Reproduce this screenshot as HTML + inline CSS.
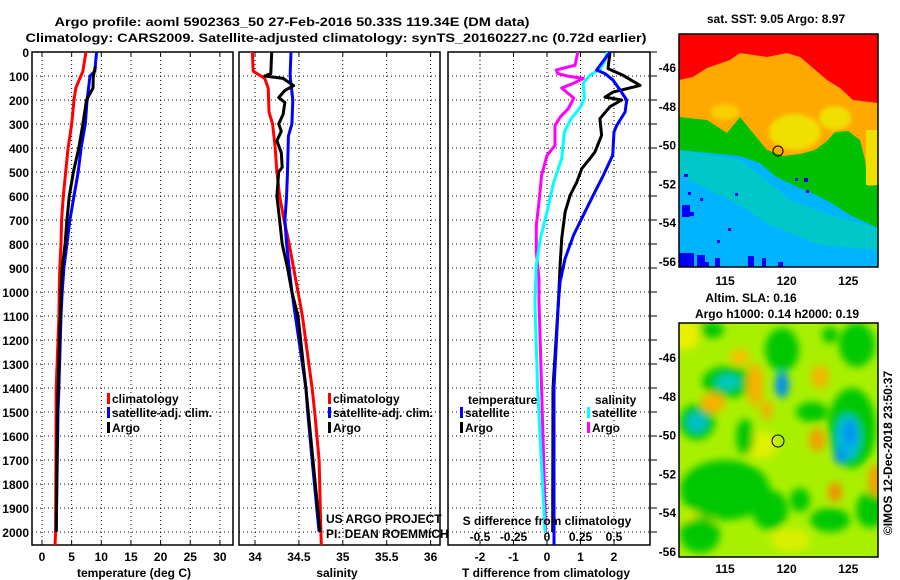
<!DOCTYPE html>
<html><head><meta charset="utf-8"><style>
html,body{margin:0;padding:0;background:#fff;}
svg{display:block;font-family:"Liberation Sans",sans-serif;}
.b{font-weight:bold;font-size:12px;}
</style></head><body>
<svg id="c" width="900" height="580" viewBox="0 0 900 580" xmlns="http://www.w3.org/2000/svg">
<defs>
<filter id="blur" x="-20%" y="-20%" width="140%" height="140%"><feGaussianBlur stdDeviation="4"/></filter>
<filter id="blur2" x="-20%" y="-20%" width="140%" height="140%"><feGaussianBlur stdDeviation="2"/></filter>
<clipPath id="clipT"><rect x="679" y="34" width="199" height="233"/></clipPath>
<clipPath id="clipB"><rect x="679" y="323" width="199" height="234"/></clipPath>
</defs>
<text class="b" x="292" y="26" text-anchor="middle" font-size="14" textLength="475" lengthAdjust="spacingAndGlyphs">Argo profile: aoml 5902363_50 27-Feb-2016 50.33S 119.34E (DM data)</text>
<text class="b" x="336" y="42" text-anchor="middle" font-size="14" textLength="621" lengthAdjust="spacingAndGlyphs">Climatology: CARS2009. Satellite-adjusted climatology: synTS_20160227.nc (0.72d earlier)</text>
<g id="plots"></g>
<g id="maps"></g>
</svg>
<script>
// ---- profile data (depth in m) ----
const tClimDepth = [0,80,150,200,300,400,500,600,700,800,900,1000,1100,1400,2000,2054];
const tClimVal   = [7.4,6.9,5.7,5.4,5.0,4.4,4.0,3.6,3.3,3.2,3.0,2.9,2.85,2.4,2.3,2.2];
const tSatDepth  = [0,80,100,200,300,400,500,600,700,800,900,1000,1100,1400,1500,2000];
const tSatVal    = [9.2,8.9,8.1,7.6,7.3,6.6,6.1,5.4,4.7,4.2,3.7,3.4,3.2,2.85,2.7,2.4];
const tArgoDepth = [60,100,150,200,300,400,500,600,700,800,900,1000,1500,2000];
const tArgoVal   = [9.0,8.65,8.6,7.5,6.9,6.2,5.3,4.6,4.2,3.9,3.4,3.2,2.6,2.4];

const sClimDepth = [0,80,110,150,250,300,400,500,600,700,800,900,1000,1100,1400,1500,1700,2000,2054];
const sClimVal   = [33.97,33.98,34.11,34.15,34.16,34.2,34.23,34.25,34.28,34.33,34.39,34.44,34.49,34.54,34.65,34.68,34.73,34.75,34.755];
const sSatDepth  = [0,100,200,300,350,500,600,700,800,900,1000,1100,1400,1500,1700,2000];
const sSatVal    = [34.41,34.4,34.43,34.42,34.38,34.37,34.36,34.34,34.36,34.39,34.42,34.46,34.58,34.6,34.65,34.73];
const sArgoDepth = [0,90,100,110,140,160,190,210,260,300,330,370,420,480,500,600,700,800,900,1000,1100,1400,2000];
const sArgoVal   = [34.19,34.18,34.11,34.32,34.44,34.34,34.27,34.34,34.32,34.27,34.3,34.25,34.3,34.31,34.27,34.25,34.28,34.31,34.37,34.42,34.49,34.58,34.74];

const dTSatDepth = [0,75,90,117,158,200,250,306,333,430,514,597,681,764,861,958,1042,1400,2054];
const dTSatVal   = [1.88,1.48,1.73,1.97,2.18,2.38,2.33,2.08,2.0,1.96,1.68,1.38,1.08,0.79,0.54,0.39,0.34,0.21,0.21];
const dTArgoDepth= [0,69,97,139,167,188,200,228,278,347,417,444,486,542,597,667,778,889,1042,1400,2000];
const dTArgoVal  = [1.88,1.82,2.27,2.78,1.97,1.73,2.23,1.88,1.58,1.63,1.43,1.28,1.04,0.89,0.69,0.54,0.44,0.39,0.34,0.18,0.17];
const dSArgoDepth= [0,55,75,90,100,110,130,150,192,236,270,306,389,431,514,625,722,833,944,1042,1400,2000];
const dSArgoVal  = [0.23,0.21,0.07,0.08,0.15,0.27,0.2,0.11,0.2,0.16,0.1,0.06,0.06,0.0,-0.04,-0.06,-0.08,-0.08,-0.06,-0.06,-0.04,-0.01];
const dSSatDepth = [0,40,69,97,130,192,230,278,333,444,542,667,778,889,1042,1400,2000];
const dSSatVal   = [0.45,0.43,0.4,0.32,0.27,0.28,0.25,0.18,0.13,0.11,0.05,0.0,-0.05,-0.08,-0.09,-0.07,-0.015];

const depthTicks = [0,100,200,300,400,500,600,700,800,900,1000,1100,1200,1300,1400,1500,1600,1700,1800,1900,2000];
const tTicks = [0,5,10,15,20,25,30];
const sTicks = [34,34.5,35,35.5,36];
const sTickLabels = ["34","34.5","35","35.5","36"];
const dTTicks = [-2,-1,0,1,2];
const dSTicks = [-0.5,-0.25,0,0.25,0.5];
const dSTickLabels = ["-0.5","-0.25","0","0.25","0.5"];
const latTicks = [-46,-48,-50,-52,-54,-56];
const lonTicks = [115,120,125];

const NS = "http://www.w3.org/2000/svg";
function el(tag, attrs, parent, txt){
  const e = document.createElementNS(NS, tag);
  for (const k in attrs) e.setAttribute(k, attrs[k]);
  if (txt !== undefined) e.textContent = txt;
  parent.appendChild(e); return e;
}
const P = document.getElementById('plots');
const TOP = 52, BOT = 545;
const yD = d => TOP + d*0.24;
const xT = t => 42 + t*5.93;
const xS = s => 255 + (s-34)*87.8;
const xDT = t => 547 + t*33.5;
const xDS = s => 547 + s*134;

function panel(name, x0, x1, xTicksPx){
  const g = el('g', {}, P);
  
  
  depthTicks.forEach(d => { if (d>0) el('line',{x1:x0,x2:x1,y1:yD(d),y2:yD(d),stroke:'#000','stroke-width':1,'stroke-dasharray':'1,3'},g); });
  xTicksPx.forEach(x => el('line',{x1:x,x2:x,y1:TOP,y2:BOT,stroke:'#000','stroke-width':1,'stroke-dasharray':'1,3'},g));
  xTicksPx.forEach(x => { el('line',{x1:x,x2:x,y1:TOP,y2:TOP+4,stroke:'#000'},g); el('line',{x1:x,x2:x,y1:BOT,y2:BOT-4,stroke:'#000'},g); });
  el('rect',{x:x0,y:TOP,width:x1-x0,height:BOT-TOP,fill:'none',stroke:'#000','stroke-width':1.5},g);
  return g;
}
function line(g, name, xs, ds, fx, color, w){
  const pts = xs.map((v,i)=> fx(v).toFixed(1)+','+yD(ds[i]).toFixed(1)).join(' ');
  const p = el('polyline',{points:pts,fill:'none',stroke:color,'stroke-width':w||3,'stroke-linejoin':'round'},g);
  
  
}
function label(g,name,x,y,txt,anchor,cls,extra){
  const a = Object.assign({x:x,y:y,'text-anchor':anchor||'start','class':cls||'b'}, extra||{});
  const t = el('text',a,g,txt);
  
  
  return t;
}
function legendItem(g,name,x,y,color,txt){
  el('rect',{x:x,y:y-10,width:3,height:11,fill:color},g);
  label(g,name,x+5,y,txt);
}

const ya = el('g',{},P);


depthTicks.forEach(d => label(ya,'depth-tick-label',29,yD(d)+5,String(d),'end'));

const g1 = panel('temperature-panel',32,233,tTicks.map(xT));
line(g1,'temperature-climatology-line',tClimVal,tClimDepth,xT,'#ff0000');
line(g1,'temperature-satellite-line',tSatVal,tSatDepth,xT,'#0000ff');
line(g1,'temperature-argo-line',tArgoVal,tArgoDepth,xT,'#000000');
tTicks.forEach(t => label(g1,'temperature-tick-label',xT(t),561,String(t),'middle'));
label(g1,'temperature-axis-title',134,577,'temperature (deg C)','middle');
legendItem(g1,'legend-climatology',107,403,'#ff0000','climatology');
legendItem(g1,'legend-satellite-adj',107,417,'#0000ff','satellite-adj. clim.');
legendItem(g1,'legend-argo',107,432,'#000000','Argo');

const g2 = panel('salinity-panel',239,440,sTicks.map(xS));
line(g2,'salinity-climatology-line',sClimVal,sClimDepth,xS,'#ff0000');
line(g2,'salinity-satellite-line',sSatVal,sSatDepth,xS,'#0000ff');
line(g2,'salinity-argo-line',sArgoVal,sArgoDepth,xS,'#000000');
sTicks.forEach((s,i) => label(g2,'salinity-tick-label',xS(s),561,sTickLabels[i],'middle'));
label(g2,'salinity-axis-title',337,577,'salinity','middle');
legendItem(g2,'legend-climatology',328,403,'#ff0000','climatology');
legendItem(g2,'legend-satellite-adj',328,417,'#0000ff','satellite-adj. clim.');
legendItem(g2,'legend-argo',328,432,'#000000','Argo');
label(g2,'credit-project',326,523,'US ARGO PROJECT','start','',{'font-size':'12'});
label(g2,'credit-pi',326,538,'PI: DEAN ROEMMICH','start','',{'font-size':'12'});

const g3 = panel('difference-panel',448,650,dTTicks.map(xDT));
line(g3,'salinity-diff-argo-line',dSArgoVal,dSArgoDepth,xDS,'#ff00ff');
line(g3,'salinity-diff-satellite-line',dSSatVal,dSSatDepth,xDS,'#00ffff');
line(g3,'temperature-diff-argo-line',dTArgoVal,dTArgoDepth,xDT,'#000000');
line(g3,'temperature-diff-satellite-line',dTSatVal,dTSatDepth,xDT,'#0000ff');
depthTicks.forEach(d => el('line',{x1:650,x2:657,y1:yD(d),y2:yD(d),stroke:'#000'},g3));
dTTicks.forEach(t => label(g3,'t-diff-tick-label',xDT(t),561,String(t),'middle'));
label(g3,'t-diff-axis-title',546,577,'T difference from climatology','middle');
label(g3,'s-diff-axis-title',547,525,'S difference from climatology','middle');
dSTicks.forEach((s,i) => label(g3,'s-diff-tick-label',xDS(s),541,dSTickLabels[i],'middle'));
label(g3,'legend-temperature-heading',468,404,'temperature');
legendItem(g3,'legend-t-satellite',460,417,'#0000ff','satellite');
legendItem(g3,'legend-t-argo',460,432,'#000000','Argo');
label(g3,'legend-salinity-heading',595,404,'salinity');
legendItem(g3,'legend-s-satellite',587,417,'#00ffff','satellite');
legendItem(g3,'legend-s-argo',587,432,'#ff00ff','Argo');

// ---- maps ----
const M = document.getElementById('maps');
const lonX = lon => 725 + (lon-115)*12.33;
const latYT = lat => 67 + (-46-lat)*19.4;
const latYB = lat => 357 + (-46-lat)*19.4;

// SST map
const gm1 = el('g',{'clip-path':'url(#clipT)'},M);


el('rect',{x:679,y:34,width:199,height:233,fill:'#00b4ff'},gm1);
el('polygon',{points:'679,150 740,160 760,175 790,200 830,215 878,228 878,250 820,245 770,225 740,205 700,185 679,175',fill:'#00c8c8'},gm1);
el('polygon',{points:'679,34 878,34 878,228 850,215 830,202 810,192 795,186 775,176 760,163 740,156 700,152 679,150',fill:'#00c000'},gm1);
el('polygon',{points:'679,34 878,34 878,185 868,186 865,160 860,140 848,131 835,132 827,141 815,150 800,154 783,156 767,150 753,133 740,117 727,133 707,120 679,117',fill:'#ffa800'},gm1);
el('ellipse',{cx:795,cy:132,rx:26,ry:18,fill:'#f0e000',filter:'url(#blur2)'},gm1);
el('ellipse',{cx:835,cy:118,rx:16,ry:12,fill:'#f0e000',filter:'url(#blur2)'},gm1);
el('ellipse',{cx:725,cy:112,rx:14,ry:8,fill:'#f8d000',filter:'url(#blur2)'},gm1);
el('rect',{x:866,y:130,width:12,height:55,fill:'#f0e000'},gm1);
el('polygon',{points:'679,34 878,34 878,103 853,100 840,88 827,80 813,68 800,57 787,53 767,57 740,53 730,60 707,68 693,77 679,80',fill:'#ff0000'},gm1);
[[684,174,4,3],[688,192,3,3],[682,205,8,12],[690,212,4,4],[700,198,3,3],[735,193,3,3],[728,228,3,3],[717,240,3,3],[679,253,15,14],[697,255,8,12],[715,258,5,9],[748,256,6,11],[762,258,4,9],[778,262,5,5],[705,262,4,5],[804,178,4,4],[795,178,3,3],[806,190,3,3]].forEach(r=>el('rect',{x:r[0],y:r[1],width:r[2],height:r[3],fill:'#0000ff'},gm1));
el('rect',{x:679,y:34,width:199,height:233,fill:'none',stroke:'#000','stroke-width':1.5},M);
el('circle',{cx:778,cy:151,r:5,fill:'none',stroke:'#000','stroke-width':1},M);
label(M,'sst-map-title',776,23,'sat. SST: 9.05 Argo: 8.97','middle');
latTicks.forEach(l => label(M,'sst-lat-tick-label',676,latYT(l)+5,String(l),'end'));
lonTicks.forEach(l => label(M,'sst-lon-tick-label',lonX(l),285,String(l),'middle'));

// SLA map
const gm2 = el('g',{'clip-path':'url(#clipB)'},M);


el('rect',{x:679,y:323,width:199,height:234,fill:'#a8f000'},gm2);
const bl = el('g',{filter:'url(#blur)'},gm2);
[[685,335,15,15,'#e8f000'],[760,445,18,14,'#e0f000'],[700,520,15,10,'#e0f000'],[790,540,20,12,'#d8f000']].forEach(b=>el('ellipse',{cx:b[0],cy:b[1],rx:b[2],ry:b[3],fill:b[4]},bl));
[[782,350,17,22],[728,382,26,16],[697,422,18,18],[745,437,9,18],[725,490,45,30],[700,535,20,18],[770,510,18,20],[852,428,24,40],[812,412,16,10],[857,345,18,22],[830,520,20,12],[870,510,14,18],[712,330,12,8],[830,335,8,8],[800,500,10,12]].forEach(b=>el('ellipse',{cx:b[0],cy:b[1],rx:b[2],ry:b[3],fill:'#00c800'},bl));
[[728,382,12,7,'#00c8c8'],[697,422,10,10,'#00c0c8'],[782,385,7,13,'#0090f0'],[848,437,12,22,'#00b8e0'],[850,433,6,12,'#0090f0'],[840,456,6,8,'#0090f0']].forEach(b=>el('ellipse',{cx:b[0],cy:b[1],rx:b[2],ry:b[3],fill:b[4]},bl));
[[740,357,10,8,'#f8c000'],[755,385,8,22,'#f8b000'],[767,410,6,10,'#f0b000'],[713,403,12,10,'#f8b000'],[820,377,9,12,'#f0b800'],[817,440,8,12,'#f0a000'],[835,492,7,10,'#f09000'],[876,480,8,16,'#f0a000']].forEach(b=>el('ellipse',{cx:b[0],cy:b[1],rx:b[2],ry:b[3],fill:b[4]},bl));
el('rect',{x:679,y:323,width:199,height:234,fill:'none',stroke:'#000','stroke-width':1.5},M);
el('circle',{cx:778,cy:441,r:6,fill:'none',stroke:'#000','stroke-width':1},M);
label(M,'sla-map-title',751,302,'Altim. SLA: 0.16','middle');
label(M,'sla-map-subtitle',777,318,'Argo h1000: 0.14 h2000: 0.19','middle');
latTicks.forEach(l => label(M,'sla-lat-tick-label',676,latYB(l)+5,String(l),'end'));
lonTicks.forEach(l => label(M,'sla-lon-tick-label',lonX(l),573,String(l),'middle'));
label(M,'imos-timestamp',0,0,'©IMOS 12-Dec-2018 23:50:37','middle','',{'font-size':'12',transform:'translate(892,453) rotate(-90)'});
</script>
</body></html>
